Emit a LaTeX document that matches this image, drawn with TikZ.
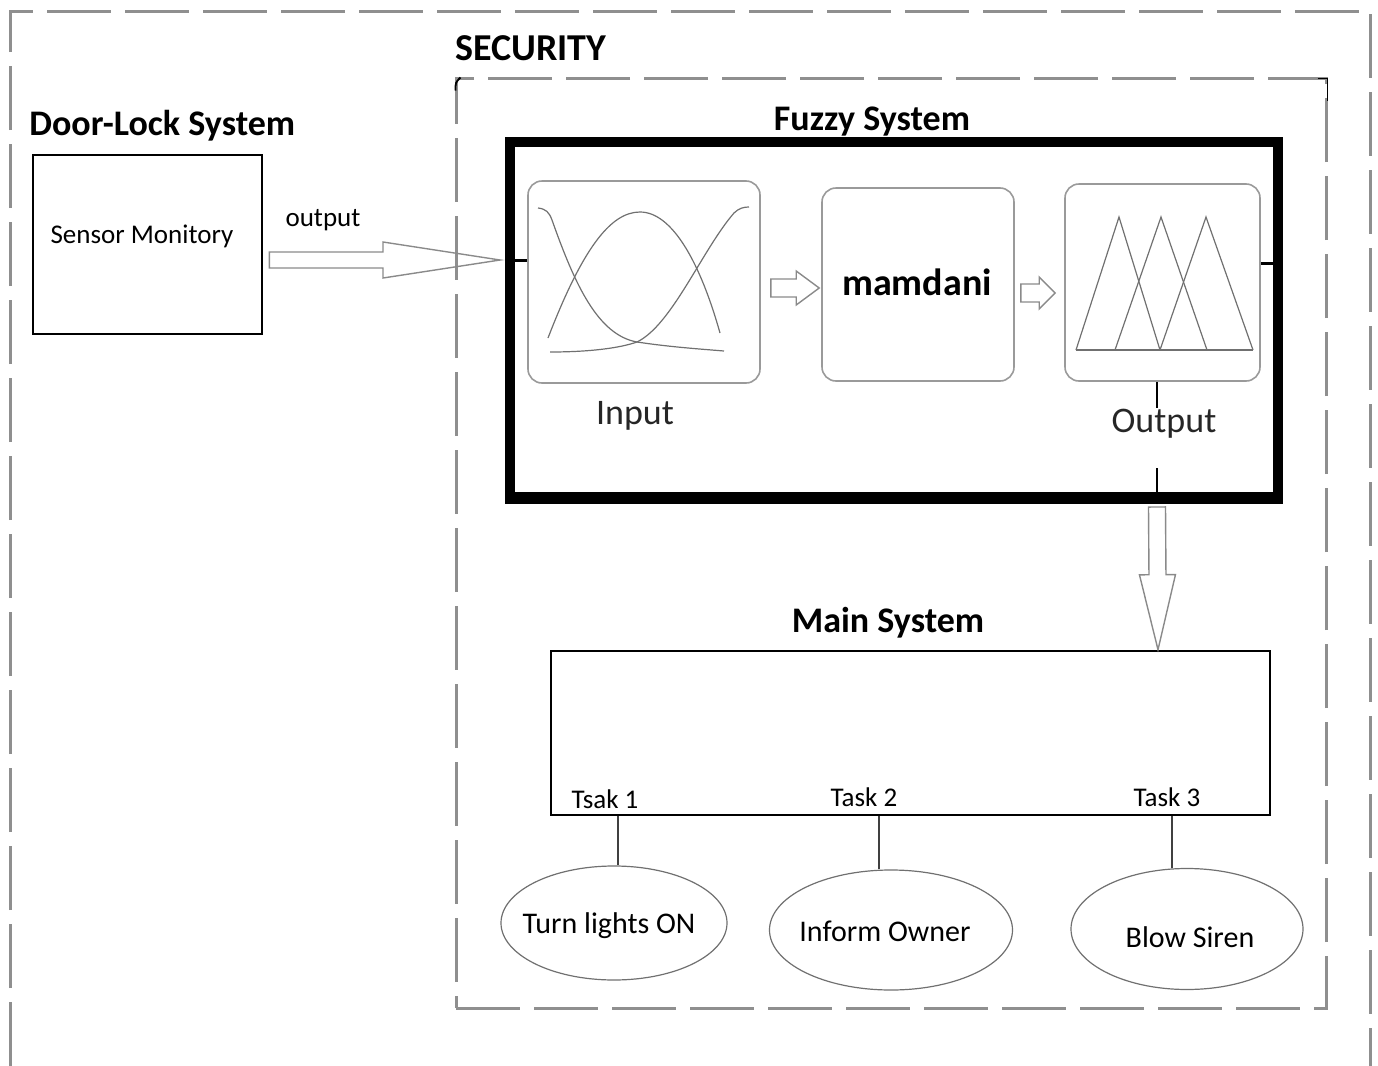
\documentclass[tikz,border=0pt]{standalone}
\usepackage{fontspec}
\setmainfont{Carlito}
\usetikzlibrary{calc,shapes.geometric}
\definecolor{dashgray}{HTML}{8F8F8F}
\definecolor{boxgray}{HTML}{9A9A9A}
\definecolor{curvegray}{HTML}{707070}
\definecolor{arrgray}{HTML}{8A8A8A}
\newcommand\hollowarr[5]{%
  \coordinate (ha-s) at #1;
  \coordinate (ha-e) at #2;
  \coordinate (ha-m) at ($(ha-e)!#5!(ha-s)$);
  \draw[hollow] ($(ha-s)!#3!90:(ha-e)$) -- ($(ha-m)!#3!-90:(ha-s)$) -- ($(ha-m)!#4!-90:(ha-s)$)
    -- (ha-e) -- ($(ha-m)!#4!90:(ha-s)$) -- ($(ha-m)!#3!90:(ha-s)$) -- ($(ha-s)!#3!-90:(ha-e)$) -- cycle;}
\begin{document}
\begin{tikzpicture}[x=0.5pt,y=-0.5pt,
  framedash/.style={draw=dashgray,line width=1.5pt,dash pattern=on 32pt off 7pt},
  title/.style={font=\bfseries\fontsize{18}{21}\selectfont,inner sep=0pt,anchor=base},
  plainbox/.style={draw=black,line width=1.3pt,inner sep=0pt},
  roundbox/.style={draw=boxgray,line width=0.8pt,rounded corners=7pt,inner sep=0pt},
  hollow/.style={draw=arrgray,line width=0.7pt,line join=miter},
  mfcurve/.style={draw=curvegray,line width=0.6pt},
  tasklbl/.style={font=\fontsize{13.5}{16}\selectfont,inner sep=0pt,anchor=base},
  oval/.style={ellipse,draw=curvegray,line width=0.6pt,inner sep=0pt,font=\fontsize{15}{18}\selectfont},
  stub/.style={draw=black,line width=1.5pt},
  thinlink/.style={draw=black!75,line width=0.6pt},
]
\useasboundingbox (0,0) rectangle (1378,1066);

% outer frame (open at the bottom)
\draw[framedash] (10,1066) -- (10,11) -- (1370,11) -- (1370,1066);

% security frame
\node[framedash,inner sep=0pt,minimum width=435pt,minimum height=465pt] (security) at (891,543) {};
\draw[black,line width=0.9pt] ($(security.north west)+(1,14)$) .. controls ($(security.north west)+(1,6)$) .. ($(security.north west)+(6,1)$);
\draw[black,line width=0.9pt] ($(security.north east)+(-10,2)$) -- ($(security.north east)+(0,2)$) -- ($(security.north east)+(0,24)$);
\node[title,font=\bfseries\fontsize{19}{22}\selectfont,anchor=base west] (sectitle) at (455,60) {SECURITY};

% door-lock system
\node[title,anchor=base west] (doortitle) at (29,135) {Door-Lock System};
\node[plainbox,minimum width=114.5pt,minimum height=89.5pt] (sensor) at (147.5,244.5) {};
\node[font=\fontsize{13.5}{16}\selectfont,inner sep=0pt,anchor=base] (sensortext) at (142,243) {Sensor Monitory};
\node[font=\fontsize{13.5}{16}\selectfont,inner sep=0pt,anchor=base] (outputlbl) at (323,226) {output};

% fuzzy system
\node[title] (fuzzytitle) at (872,130) {Fuzzy System};
\node[draw=black,line width=5pt,inner sep=0pt,minimum width=384pt,minimum height=178.5pt] (fuzzy) at (894,320.5) {};
\draw[black,line width=0.9pt] ($(fuzzy.south west)+(5,-11)$) -- ($(fuzzy.south east)+(-5,-11)$);

\node[roundbox,minimum width=116pt,minimum height=101pt] (input) at (644,282) {};
\node[roundbox,minimum width=96pt,minimum height=96.5pt] (mamdani) at (918,284.5) {};
\node[font=\bfseries\fontsize{19}{22}\selectfont,inner sep=0pt,anchor=base] (mamdanitext) at (917,295) {mamdani};
\node[roundbox,minimum width=97.5pt,minimum height=98.5pt] (output) at (1162.5,282.5) {};

% membership curves of the input
\draw[mfcurve] (538,208) .. controls (546,209) and (549,212) .. (552,220)
  .. controls (575,285) and (598,335) .. (637,342) .. controls (670,347) and (700,349) .. (724,351);
\draw[mfcurve] (548,338) .. controls (582,250) and (610,212) .. (640,212) .. controls (672,212) and (700,262) .. (720,333);
\draw[mfcurve] (550,352) .. controls (590,352) and (620,348) .. (637,342)
  .. controls (672,325) and (702,250) .. (734,213) .. controls (739,208) and (744,207) .. (749,207);

% membership triangles of the output
\draw[mfcurve,line join=miter] (1076,350) -- (1119,217) -- (1160,350);
\draw[mfcurve,line join=miter] (1115,350) -- (1161,217) -- (1207,350);
\draw[mfcurve,line join=miter] (1160,350) -- (1206,217) -- (1253,350);
\draw[mfcurve] (1076,350) -- (1253,350);

\node[font=\fontsize{18}{21}\selectfont,inner sep=0pt,anchor=base,text=black!85] (inputlbl) at (635,424) {Input};
\node[font=\fontsize{18}{21}\selectfont,inner sep=0pt,anchor=base,text=black!85] (outputtxt) at (1164,432) {Output};

% stubs on the fuzzy border
\coordinate (inY) at ($(input.west)+(0,-22)$);
\draw[stub] (fuzzy.west |- inY) -- (inY);
\coordinate (outY) at ($(output.east)+(0,-19)$);
\draw[stub] (outY) -- (fuzzy.east |- outY);
\coordinate (ovx) at ($(output.south)+(-5.5,0)$);
\draw[black,line width=1.2pt] (ovx) -- ++(0,26);
\draw[black,line width=1.2pt] ($(fuzzy.south -| ovx)+(0,-36)$) -- (fuzzy.south -| ovx);

% hollow arrows
\hollowarr{($(sensor.east)+(6,15.5)$)}{($(fuzzy.west |- inY)+(-5,0)$)}{4pt}{9pt}{58.5pt}
\hollowarr{($(input.east)+(10,6)$)}{($(mamdani.west)+(-2,3.5)$)}{4.5pt}{8.5pt}{11.5pt}
\hollowarr{($(mamdani.east)+(6,8.5)$)}{($(output.west)+(-9,10.5)$)}{4.5pt}{8pt}{8pt}

% main system
\node[title] (maintitle) at (888,632) {Main System};
\node[plainbox,minimum width=359.5pt,minimum height=82pt] (main) at (910.5,733) {};
\hollowarr{($(fuzzy.south -| ovx)+(0,3)$)}{($(main.north -| ovx)+(1,0)$)}{4.25pt}{9pt}{37.5pt}

\node[tasklbl] (task1) at (605,808) {Tsak 1};
\node[tasklbl] (task2) at (864,806) {Task 2};
\node[tasklbl] (task3) at (1167,806) {Task 3};

\node[oval,minimum width=113pt,minimum height=57pt] (e1) at (614,923) {};
\node[oval,minimum width=121.5pt,minimum height=60pt] (e2) at (891,930) {};
\node[oval,minimum width=116pt,minimum height=60.5pt] (e3) at (1187,929) {};
\node[font=\fontsize{15}{18}\selectfont,inner sep=0pt,anchor=base] (e1t) at (609,933) {Turn lights ON};
\node[font=\fontsize{15}{18}\selectfont,inner sep=0pt,anchor=base] (e2t) at (885,941) {Inform Owner};
\node[font=\fontsize{15}{18}\selectfont,inner sep=0pt,anchor=base] (e3t) at (1190,947) {Blow Siren};

\coordinate (c1) at ($(e1.north)+(4,0)$);
\coordinate (c2) at ($(e2.north)+(-12,0)$);
\coordinate (c3) at ($(e3.north)+(-15,0)$);
\draw[thinlink] (main.south -| c1) -- (c1);
\draw[thinlink] (main.south -| c2) -- (c2);
\draw[thinlink] (main.south -| c3) -- (c3);
\end{tikzpicture}
\end{document}
